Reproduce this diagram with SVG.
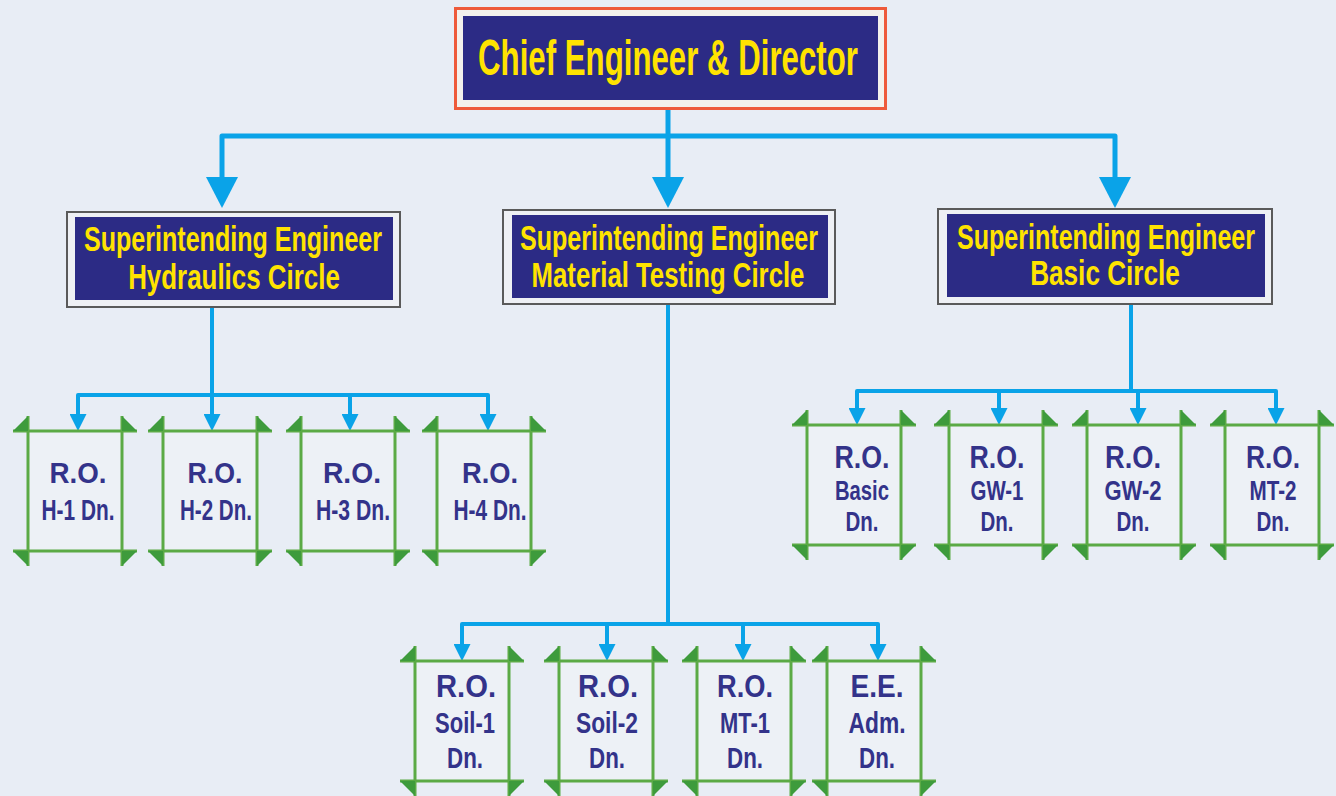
<svg xmlns="http://www.w3.org/2000/svg" xmlns:xlink="http://www.w3.org/1999/xlink" width="1336" height="796" viewBox="0 0 1336 796">
<style>
.conn{fill:none;stroke:#0AA3E8;stroke-linejoin:round}
.main{stroke-width:5}
.sub{stroke-width:4}
.navy{fill:#2C2B85}
.cap{font-family:"Liberation Sans",Arial,sans-serif;font-weight:bold;fill:#FFE300;text-anchor:middle}
.ro{font-family:"Liberation Sans",Arial,sans-serif;font-weight:bold;fill:#33338A;text-anchor:middle}
.fl{stroke:#5BAA45;stroke-width:3}
.ft{fill:#3E9B3C}
</style>
<defs>
<marker id="big" markerUnits="userSpaceOnUse" markerWidth="32" markerHeight="32" viewBox="0 -16 31 32" refX="0" refY="0" orient="auto">
<path d="M0,-16 L31,0 L0,16 z" fill="#0AA3E8"/>
</marker>
<marker id="small" markerUnits="userSpaceOnUse" markerWidth="17" markerHeight="17" viewBox="0 -8.5 17 17" refX="0" refY="0" orient="auto">
<path d="M0,-8.5 L17,0 L0,8.5 z" fill="#0AA3E8"/>
</marker>
<g id="frame">
<rect x="0" y="0" width="94" height="120" fill="#EDF1F6"/>
<line class="fl" x1="-15" y1="0" x2="109" y2="0"/>
<line class="fl" x1="-15" y1="120" x2="109" y2="120"/>
<line class="fl" x1="0" y1="-15" x2="0" y2="135"/>
<line class="fl" x1="94" y1="-15" x2="94" y2="135"/>
<polygon class="ft" points="-15,0 0,-15 0,0"/>
<polygon class="ft" points="94,-15 94,0 109,0"/>
<polygon class="ft" points="-15,120 0,120 0,135"/>
<polygon class="ft" points="94,120 109,120 94,135"/>
</g>
</defs>
<rect x="0" y="0" width="1336" height="796" fill="#E8EDF5"/>

<g id="connectors">
<path class="conn main" d="M668,108 V177" marker-end="url(#big)"/>
<path class="conn main" d="M668,136 H222 V177" marker-end="url(#big)"/>
<path class="conn main" d="M668,136 H1115 V177" marker-end="url(#big)"/>
<path class="conn sub" d="M212,307 V395"/>
<path class="conn sub" d="M212,395 H78 V414" marker-end="url(#small)"/>
<path class="conn sub" d="M212,395 V414" marker-end="url(#small)"/>
<path class="conn sub" d="M212,395 H350 V414" marker-end="url(#small)"/>
<path class="conn sub" d="M212,395 H488 V414" marker-end="url(#small)"/>
<path class="conn sub" d="M668,304 V624"/>
<path class="conn sub" d="M668,624 H462 V644" marker-end="url(#small)"/>
<path class="conn sub" d="M668,624 H607 V644" marker-end="url(#small)"/>
<path class="conn sub" d="M668,624 H743 V644" marker-end="url(#small)"/>
<path class="conn sub" d="M668,624 H878 V644" marker-end="url(#small)"/>
<path class="conn sub" d="M1131,304 V391"/>
<path class="conn sub" d="M1131,391 H857 V408" marker-end="url(#small)"/>
<path class="conn sub" d="M1131,391 H999 V408" marker-end="url(#small)"/>
<path class="conn sub" d="M1131,391 H1138 V408" marker-end="url(#small)"/>
<path class="conn sub" d="M1131,391 H1276 V408" marker-end="url(#small)"/>
</g>

<g id="chief">
<rect x="455.5" y="8.5" width="430" height="100" fill="#F3F1EC" stroke="#EE5A3A" stroke-width="3"/>
<rect class="navy" x="463" y="16" width="415" height="84"/>
<text class="cap" transform="translate(668,75) scale(0.63,1)" x="0" y="0" font-size="50" textLength="603" lengthAdjust="spacingAndGlyphs">Chief Engineer &amp; Director</text>
</g>

<g id="se-hydraulics">
<rect x="67" y="212" width="333" height="95" fill="#EEF0F4" stroke="#5A5A5A" stroke-width="2"/>
<rect class="navy" x="75" y="217" width="318" height="83"/>
<text class="cap" transform="translate(233,251) scale(0.72,1)" x="0" y="0" font-size="35" textLength="414" lengthAdjust="spacingAndGlyphs">Superintending Engineer</text>
<text class="cap" transform="translate(234,289) scale(0.72,1)" x="0" y="0" font-size="35" textLength="294" lengthAdjust="spacingAndGlyphs">Hydraulics Circle</text>
</g>

<g id="se-material">
<rect x="503" y="210" width="332" height="94" fill="#EEF0F4" stroke="#5A5A5A" stroke-width="2"/>
<rect class="navy" x="512" y="215" width="316" height="83"/>
<text class="cap" transform="translate(669,250) scale(0.72,1)" x="0" y="0" font-size="35" textLength="414" lengthAdjust="spacingAndGlyphs">Superintending Engineer</text>
<text class="cap" transform="translate(668,287) scale(0.72,1)" x="0" y="0" font-size="35" textLength="379" lengthAdjust="spacingAndGlyphs">Material Testing Circle</text>
</g>

<g id="se-basic">
<rect x="938" y="209" width="334" height="95" fill="#EEF0F4" stroke="#5A5A5A" stroke-width="2"/>
<rect class="navy" x="947" y="214" width="318" height="83"/>
<text class="cap" transform="translate(1106,249) scale(0.72,1)" x="0" y="0" font-size="35" textLength="414" lengthAdjust="spacingAndGlyphs">Superintending Engineer</text>
<text class="cap" transform="translate(1105,285) scale(0.72,1)" x="0" y="0" font-size="35" textLength="208" lengthAdjust="spacingAndGlyphs">Basic Circle</text>
</g>

<g id="ro-h1">
<use xlink:href="#frame" x="28" y="431"/>
<text class="ro" x="78" y="483" font-size="29" textLength="57" lengthAdjust="spacingAndGlyphs">R.O.</text>
<text class="ro" x="78" y="520" font-size="29" textLength="73" lengthAdjust="spacingAndGlyphs">H-1 Dn.</text>
</g>
<g id="ro-h2">
<use xlink:href="#frame" x="163" y="431"/>
<text class="ro" x="215" y="483" font-size="29" textLength="55" lengthAdjust="spacingAndGlyphs">R.O.</text>
<text class="ro" x="216" y="520" font-size="29" textLength="72" lengthAdjust="spacingAndGlyphs">H-2 Dn.</text>
</g>
<g id="ro-h3">
<use xlink:href="#frame" x="301" y="431"/>
<text class="ro" x="352" y="483" font-size="29" textLength="58" lengthAdjust="spacingAndGlyphs">R.O.</text>
<text class="ro" x="353" y="520" font-size="29" textLength="74" lengthAdjust="spacingAndGlyphs">H-3 Dn.</text>
</g>
<g id="ro-h4">
<use xlink:href="#frame" x="437" y="431"/>
<text class="ro" x="490" y="483" font-size="29" textLength="56" lengthAdjust="spacingAndGlyphs">R.O.</text>
<text class="ro" x="490" y="520" font-size="29" textLength="73" lengthAdjust="spacingAndGlyphs">H-4 Dn.</text>
</g>

<g id="ro-basic">
<use xlink:href="#frame" x="807" y="425"/>
<text class="ro" x="862" y="468" font-size="31" textLength="55" lengthAdjust="spacingAndGlyphs">R.O.</text>
<text class="ro" x="862" y="500" font-size="27" textLength="54" lengthAdjust="spacingAndGlyphs">Basic</text>
<text class="ro" x="862" y="531" font-size="27" textLength="33" lengthAdjust="spacingAndGlyphs">Dn.</text>
</g>
<g id="ro-gw1">
<use xlink:href="#frame" x="949" y="425"/>
<text class="ro" x="997" y="468" font-size="31" textLength="55" lengthAdjust="spacingAndGlyphs">R.O.</text>
<text class="ro" x="997" y="500" font-size="27" textLength="53" lengthAdjust="spacingAndGlyphs">GW-1</text>
<text class="ro" x="997" y="531" font-size="27" textLength="33" lengthAdjust="spacingAndGlyphs">Dn.</text>
</g>
<g id="ro-gw2">
<use xlink:href="#frame" x="1087" y="425"/>
<text class="ro" x="1133" y="468" font-size="31" textLength="56" lengthAdjust="spacingAndGlyphs">R.O.</text>
<text class="ro" x="1133" y="500" font-size="27" textLength="57" lengthAdjust="spacingAndGlyphs">GW-2</text>
<text class="ro" x="1133" y="531" font-size="27" textLength="33" lengthAdjust="spacingAndGlyphs">Dn.</text>
</g>
<g id="ro-mt2">
<use xlink:href="#frame" x="1225" y="425"/>
<text class="ro" x="1273" y="468" font-size="31" textLength="54" lengthAdjust="spacingAndGlyphs">R.O.</text>
<text class="ro" x="1273" y="500" font-size="27" textLength="47" lengthAdjust="spacingAndGlyphs">MT-2</text>
<text class="ro" x="1273" y="531" font-size="27" textLength="33" lengthAdjust="spacingAndGlyphs">Dn.</text>
</g>

<g id="ro-soil1">
<use xlink:href="#frame" x="415" y="661"/>
<text class="ro" x="466" y="697" font-size="32" textLength="60" lengthAdjust="spacingAndGlyphs">R.O.</text>
<text class="ro" x="465" y="733" font-size="29" textLength="60" lengthAdjust="spacingAndGlyphs">Soil-1</text>
<text class="ro" x="465" y="768" font-size="29" textLength="36" lengthAdjust="spacingAndGlyphs">Dn.</text>
</g>
<g id="ro-soil2">
<use xlink:href="#frame" x="559" y="661"/>
<text class="ro" x="608" y="697" font-size="32" textLength="60" lengthAdjust="spacingAndGlyphs">R.O.</text>
<text class="ro" x="607" y="733" font-size="29" textLength="62" lengthAdjust="spacingAndGlyphs">Soil-2</text>
<text class="ro" x="607" y="768" font-size="29" textLength="36" lengthAdjust="spacingAndGlyphs">Dn.</text>
</g>
<g id="ro-mt1">
<use xlink:href="#frame" x="697" y="661"/>
<text class="ro" x="745" y="697" font-size="32" textLength="56" lengthAdjust="spacingAndGlyphs">R.O.</text>
<text class="ro" x="745" y="733" font-size="29" textLength="50" lengthAdjust="spacingAndGlyphs">MT-1</text>
<text class="ro" x="745" y="768" font-size="29" textLength="36" lengthAdjust="spacingAndGlyphs">Dn.</text>
</g>
<g id="ee-adm">
<use xlink:href="#frame" x="827" y="661"/>
<text class="ro" x="877" y="697" font-size="32" textLength="53" lengthAdjust="spacingAndGlyphs">E.E.</text>
<text class="ro" x="877" y="733" font-size="29" textLength="57" lengthAdjust="spacingAndGlyphs">Adm.</text>
<text class="ro" x="877" y="768" font-size="29" textLength="36" lengthAdjust="spacingAndGlyphs">Dn.</text>
</g>
</svg>
